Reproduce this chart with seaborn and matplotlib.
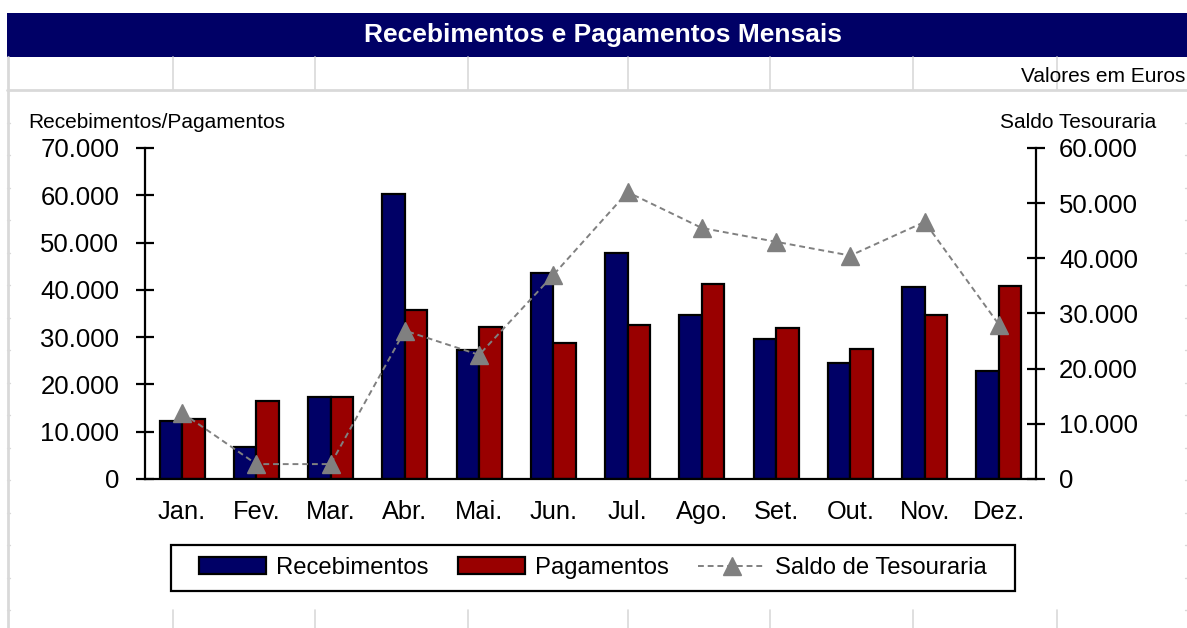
import matplotlib
matplotlib.use("Agg")
import matplotlib.pyplot as plt
import matplotlib.ticker as mticker
from matplotlib.lines import Line2D
from matplotlib.patches import Rectangle, Patch
import numpy as np
import pandas as pd
import seaborn as sns

# ---------------- data ----------------
meses = ["Jan.", "Fev.", "Mar.", "Abr.", "Mai.", "Jun.", "Jul.", "Ago.", "Set.", "Out.", "Nov.", "Dez."]
recebimentos = [12300, 6800, 17400, 60200, 27200, 43600, 47700, 34700, 29600, 24500, 40600, 22900]
pagamentos = [12700, 16500, 17400, 35800, 32100, 28700, 32500, 41300, 32000, 27500, 34700, 40900]
saldo = [12000, 2700, 2700, 26900, 22500, 37000, 52000, 45500, 43000, 40500, 46600, 28000]
series_names = ["Recebimentos", "Pagamentos", "Saldo de Tesouraria"]
titulo = "Recebimentos e Pagamentos Mensais"
left_ticks = [0, 10000, 20000, 30000, 40000, 50000, 60000, 70000]
right_ticks = [0, 10000, 20000, 30000, 40000, 50000, 60000]

NAVY = "#000066"
RED = "#990000"
GREY = "#808080"
GRID = "#d9d9d9"

sns.set_style("white")
plt.rcParams["font.family"] = ["Liberation Sans", "DejaVu Sans"]
plt.rcParams["text.color"] = "black"
plt.rcParams["xtick.color"] = "black"
plt.rcParams["ytick.color"] = "black"
plt.rcParams["xtick.labelcolor"] = "black"
plt.rcParams["ytick.labelcolor"] = "black"

W, H = 1187, 628
fig = plt.figure(figsize=(W / 100, H / 100), dpi=100)
fig.patch.set_facecolor("white")

def fx(x):
    return x / W

def fy(y):
    return 1 - y / H

# ---------------- spreadsheet background ----------------
cols = [173, 315, 468, 628, 770, 913, 1057]
fig.add_artist(Rectangle((fx(7), fy(57)), fx(1187) - fx(7), fy(13) - fy(57),
                         transform=fig.transFigure, facecolor=NAVY, edgecolor="none", zorder=1))
fig.text(fx(603), fy(35), titulo, color="white", fontsize=19, fontweight="bold",
         ha="center", va="center", zorder=2)
fig.add_artist(Line2D([fx(7), fx(1187)], [fy(90), fy(90)], transform=fig.transFigure,
                      color=GRID, lw=2, zorder=1))
fig.add_artist(Line2D([fx(7.5), fx(7.5)], [fy(57), fy(628)], transform=fig.transFigure,
                      color=GRID, lw=2, zorder=1))
for c in cols:
    fig.add_artist(Line2D([fx(c), fx(c)], [fy(57), fy(90)], transform=fig.transFigure,
                          color=GRID, lw=1.2, zorder=1))
    fig.add_artist(Line2D([fx(c), fx(c)], [fy(610), fy(628)], transform=fig.transFigure,
                          color=GRID, lw=1.2, zorder=1))
for k in range(1, 17):
    yy = 90 + 32.5 * k
    fig.add_artist(Line2D([fx(7), fx(10)], [fy(yy), fy(yy)], transform=fig.transFigure,
                          color=GRID, lw=1.0, zorder=1))
    fig.add_artist(Line2D([fx(1185), fx(1187)], [fy(yy), fy(yy)], transform=fig.transFigure,
                          color=GRID, lw=1.0, zorder=1))

fig.text(fx(1021), fy(77), "Valores em Euros", fontsize=15, ha="left", va="center")
fig.text(fx(28), fy(123), "Recebimentos/Pagamentos", fontsize=15, ha="left", va="center")
fig.text(fx(1000), fy(123), "Saldo Tesouraria", fontsize=15, ha="left", va="center")

# ---------------- chart ----------------
left, right, top, bottom = 145, 1036, 148, 479
ax = fig.add_axes([fx(left), fy(bottom), fx(right) - fx(left), fy(top) - fy(bottom)])
ax.set_facecolor("none")

df = pd.DataFrame({
    "mes": meses * 2,
    "valor": recebimentos + pagamentos,
    "serie": [series_names[0]] * 12 + [series_names[1]] * 12,
})
sns.barplot(data=df, x="mes", y="valor", hue="serie", order=meses,
            hue_order=series_names[:2], palette=[NAVY, RED], width=0.606,
            edgecolor="black", linewidth=1.6, errorbar=None, legend=False,
            saturation=1, ax=ax)

ax.set_xlim(-0.5, 11.5)
ax.set_ylim(0, 70000)
ax.set_yticks(left_ticks)
fmt = mticker.FuncFormatter(lambda v, p: f"{int(v):,}".replace(",", "."))
ax.yaxis.set_major_formatter(fmt)
ax.set_xlabel("")
ax.set_ylabel("")
ax.set_xticks(range(12))
ax.set_xticklabels(meses)
ax.set_xticks(np.arange(-0.5, 12, 1), minor=True)
ax.tick_params(axis="x", which="major", length=0, pad=15, labelsize=18.3)
ax.tick_params(axis="x", which="minor", length=13, width=1.6, direction="inout", color="black")
ax.tick_params(axis="y", which="major", length=13, width=1.6, direction="inout",
               color="black", labelsize=18.5, pad=12)
for s in ["top", "right"]:
    ax.spines[s].set_visible(False)
for s in ["left", "bottom"]:
    ax.spines[s].set_color("black")
    ax.spines[s].set_linewidth(1.6)
ax.grid(False)

ax2 = ax.twinx()
ax2.plot(np.arange(12), saldo, ls=(0, (3, 2)), lw=1.4, color=GREY, marker="^",
         markersize=13, markerfacecolor=GREY, markeredgecolor=GREY, zorder=5)
ax2.set_ylim(0, 60000)
ax2.set_yticks(right_ticks)
ax2.yaxis.set_major_formatter(fmt)
ax2.tick_params(axis="y", which="major", length=13, width=1.6, direction="inout",
                color="black", labelsize=18.5, pad=10)
for s in ["top", "left", "bottom"]:
    ax2.spines[s].set_visible(False)
ax2.spines["right"].set_color("black")
ax2.spines["right"].set_linewidth(1.6)
ax2.grid(False)
ax2.set_xlim(-0.5, 11.5)

# ---------------- legend ----------------
handles = [
    Patch(facecolor=NAVY, edgecolor="black", linewidth=1.6, label=series_names[0]),
    Patch(facecolor=RED, edgecolor="black", linewidth=1.6, label=series_names[1]),
    Line2D([0], [0], ls=(0, (3, 2)), lw=1.4, color=GREY, marker="^", markersize=13,
           label=series_names[2]),
]
leg = fig.legend(handles=handles, loc="center", bbox_to_anchor=(fx(593), fy(568)),
                 ncol=3, frameon=False, fontsize=17.2,
                 handlelength=2.8, handleheight=0.7, columnspacing=1.25,
                 handletextpad=0.4, borderpad=0.3)
fig.add_artist(Rectangle((fx(171), fy(591)), fx(1015) - fx(171), fy(545) - fy(591),
                         transform=fig.transFigure, facecolor="none", edgecolor="black",
                         lw=1.6, zorder=3))

fig.savefig("out.png", dpi=100, facecolor="white")
